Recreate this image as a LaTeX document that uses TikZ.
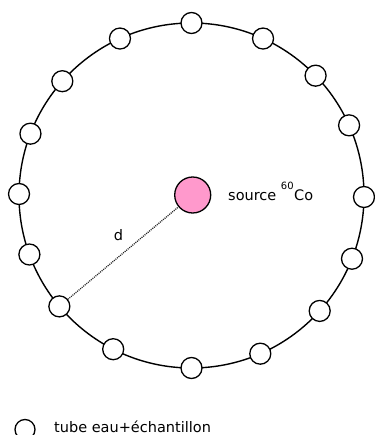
\documentclass[tikz,border=0pt]{standalone}
\usepackage{fontspec}
\setmainfont{DejaVu Sans}
\usepackage{tikz}
\definecolor{sourcepink}{HTML}{FF99CC}
\newcommand{\isotope}[1]{\raisebox{10.5pt}{\fontsize{10}{10}\selectfont #1}}

\begin{document}
\begin{tikzpicture}[x=1pt, y=-1pt, font=\fontsize{14.5}{16}\selectfont,
    tube/.style={circle, draw, line width=1.3pt, fill=white, minimum size=21pt, inner sep=0pt},
    label text/.style={inner sep=0pt, anchor=base west}]
    \useasboundingbox (0,0) rectangle (374,435);

    % Ring of tubes around the source
    \coordinate (ctr) at (191.5,195.5);
    \draw[line width=1.4pt] (ctr) circle (172.5);
    \foreach \a [count=\i] in {-90, -65.5, -44, -24, 0.5, 21.5, 42, 66.5, 90, 117, 140, 160, -179.5, -159, -138.5, -114.5}
        \node[tube] (t\i) at ([shift={(\a:172.5)}]ctr) {};

    % Cobalt source
    \node[circle, draw, line width=1.3pt, fill=sourcepink, minimum size=36pt, inner sep=0pt] (src) at (192.7,195) {};
    \node[label text] (srclabel) at (228,200.5) {source \isotope{60}\kern0.5pt Co};

    % Distance source - tube
    \draw[line width=1.3pt, black!85, dash pattern=on 1pt off 1pt] (t11) -- (src);
    \node[inner sep=0pt] (dlabel) at (118.5,235) {d};

    % Legend
    \node[tube, minimum size=20pt] (legtube) at (25,429.5) {};
    \node[label text] (legtext) at (54,432.7) {tube eau+échantillon};
\end{tikzpicture}
\end{document}
